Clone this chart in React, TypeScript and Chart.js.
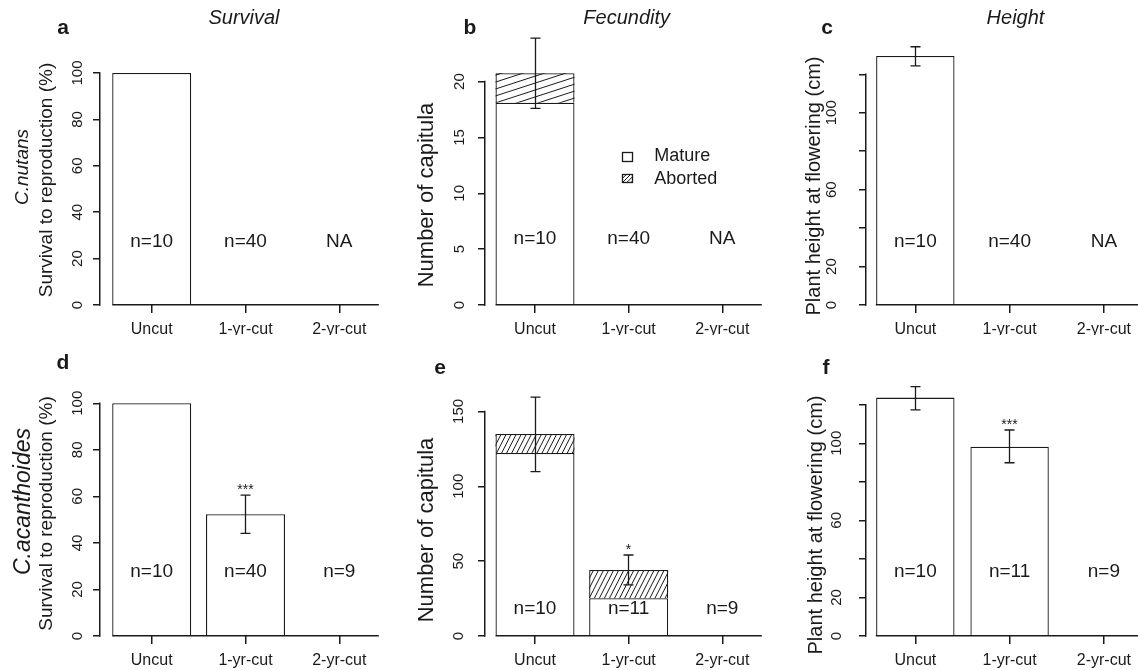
import React, { useEffect, useRef } from 'react';
import { Chart, registerables } from 'chart.js';

Chart.register(...registerables);

const FONT = '"Liberation Sans", Arial, Helvetica, sans-serif';
const INK = '#1a1a1a';
Chart.defaults.font.family = FONT;
Chart.defaults.color = INK;

// ---------- data ----------
const categories = ['Uncut', '1-yr-cut', '2-yr-cut'];

// Survival to reproduction (%)
const survivalNutans: (number | null)[] = [100, 0, null];
const survivalAcanth: (number | null)[] = [100, 52.3, 0];
const survivalAcanthErrLow: (number | null)[] = [null, 44.1, null];
const survivalAcanthErrHigh: (number | null)[] = [null, 60.5, null];

// Fecundity (number of capitula)
const matureNutans: (number | null)[] = [18.1, 0, null];
const abortedNutans: (number | null)[] = [2.65, 0, null];
const fecundNutansErrLow: (number | null)[] = [17.6, null, null];
const fecundNutansErrHigh: (number | null)[] = [23.9, null, null];
const matureAcanth: (number | null)[] = [122.2, 25.2, 0];
const abortedAcanth: (number | null)[] = [12.7, 18.9, 0];
const fecundAcanthErrLow: (number | null)[] = [109.8, 34.1, null];
const fecundAcanthErrHigh: (number | null)[] = [159.6, 54.1, null];

// Plant height at flowering (cm)
const heightNutans: (number | null)[] = [129.5, null, null];
const heightNutansErrLow: (number | null)[] = [124.4, null, null];
const heightNutansErrHigh: (number | null)[] = [134.3, null, null];
const heightAcanth: (number | null)[] = [123.7, 98.2, 0];
const heightAcanthErrLow: (number | null)[] = [117.3, 89.9, null];
const heightAcanthErrHigh: (number | null)[] = [129.4, 106.9, null];

// sample sizes & significance
const nNutans = ['n=10', 'n=40', 'NA'];
const nAcanthSurvival = ['n=10', 'n=40', 'n=9'];
const nAcanthOther = ['n=10', 'n=11', 'n=9'];
const sigSurvivalAcanth = ['', '***', ''];
const sigFecundAcanth = ['', '*', ''];
const sigHeightAcanth = ['', '***', ''];
const noSig = ['', '', ''];

// tick values
const ticksSurvival = [0, 20, 40, 60, 80, 100];
const ticksFecundNutans = [0, 5, 10, 15, 20];
const ticksFecundAcanth = [0, 50, 100, 150];
const ticksHeight = [0, 20, 40, 60, 80, 100, 120];
const labelsHeight = [0, 20, 60, 100];

// ---------- layout ----------
const AXIS_X = 100;
const BAR_W = 79;
const Y_TICK_LEN = 7;
const X_TICK_LEN = 8;

type Cfg = {
  id: string;
  left: number; top: number; width: number; height: number;
  y0: number; yTop: number; yMax: number;
  firstCenter: number; spacing: number;
  yTicks: number[]; yLabelled: number[]; yTickDist: number;
  kind: 'single' | 'stacked';
  values?: (number | null)[];
  mature?: (number | null)[];
  aborted?: (number | null)[];
  errLow: (number | null)[]; errHigh: (number | null)[];
  nLabels: string[]; nLabelY: number;
  sig: string[];
  yTitle: string; yTitleSize: number; yTitleX: number; yTitleY: number;
  letter: string; letterX: number; letterY: number;
  title?: string; titleX?: number; titleY?: number;
  species?: string; speciesX?: number; speciesY?: number; speciesSize?: number;
  hatchAngle?: number; hatchGap?: number;
  legend?: boolean;
};

const noErr = [null, null, null];

const panels: Cfg[] = [
  {
    id: 'a', left: 0, top: 0, width: 385, height: 335,
    y0: 305, yTop: 49.8, yMax: 110, firstCenter: 151.7, spacing: 93.8,
    yTicks: ticksSurvival, yLabelled: ticksSurvival, yTickDist: 22.3,
    kind: 'single', values: survivalNutans, errLow: noErr, errHigh: noErr,
    nLabels: nNutans, nLabelY: 242, sig: noSig,
    yTitle: 'Survival to reproduction (%)', yTitleSize: 19, yTitleX: 47, yTitleY: 180,
    letter: 'a', letterX: 63, letterY: 28,
    title: 'Survival', titleX: 244, titleY: 18,
    species: 'C.nutans', speciesX: 23, speciesY: 167, speciesSize: 19,
  },
  {
    id: 'b', left: 385, top: 0, width: 381, height: 335,
    y0: 305, yTop: 25.75, yMax: 25, firstCenter: 150, spacing: 93.65,
    yTicks: ticksFecundNutans, yLabelled: ticksFecundNutans, yTickDist: 25,
    kind: 'stacked', mature: matureNutans, aborted: abortedNutans,
    errLow: fecundNutansErrLow, errHigh: fecundNutansErrHigh,
    nLabels: nNutans, nLabelY: 238.3, sig: noSig,
    yTitle: 'Number of capitula', yTitleSize: 22, yTitleX: 41.7, yTitleY: 195,
    letter: 'b', letterX: 85, letterY: 28,
    title: 'Fecundity', titleX: 241.7, titleY: 18,
    hatchAngle: 18, hatchGap: 6.6, legend: true,
  },
  {
    id: 'c', left: 766, top: 0, width: 372, height: 335,
    y0: 305, yTop: 35.8, yMax: 140, firstCenter: 149.7, spacing: 95,
    yTicks: ticksHeight, yLabelled: labelsHeight, yTickDist: 34,
    kind: 'single', values: heightNutans, errLow: heightNutansErrLow, errHigh: heightNutansErrHigh,
    nLabels: nNutans, nLabelY: 242, sig: noSig,
    yTitle: 'Plant height at flowering (cm)', yTitleSize: 20, yTitleX: 48.7, yTitleY: 186,
    letter: 'c', letterX: 61, letterY: 28,
    title: 'Height', titleX: 249.5, titleY: 18,
  },
  {
    id: 'd', left: 0, top: 335, width: 385, height: 335,
    y0: 301, yTop: 45, yMax: 110, firstCenter: 151.7, spacing: 93.8,
    yTicks: ticksSurvival, yLabelled: ticksSurvival, yTickDist: 22,
    kind: 'single', values: survivalAcanth, errLow: survivalAcanthErrLow, errHigh: survivalAcanthErrHigh,
    nLabels: nAcanthSurvival, nLabelY: 236.7, sig: sigSurvivalAcanth,
    yTitle: 'Survival to reproduction (%)', yTitleSize: 19, yTitleX: 46.7, yTitleY: 178.5,
    letter: 'd', letterX: 63, letterY: 28,
    species: 'C.acanthoides', speciesX: 24, speciesY: 166.5, speciesSize: 23,
  },
  {
    id: 'e', left: 385, top: 335, width: 381, height: 335,
    y0: 301, yTop: 46.5, yMax: 170, firstCenter: 150, spacing: 93.65,
    yTicks: ticksFecundAcanth, yLabelled: ticksFecundAcanth, yTickDist: 26.3,
    kind: 'stacked', mature: matureAcanth, aborted: abortedAcanth,
    errLow: fecundAcanthErrLow, errHigh: fecundAcanthErrHigh,
    nLabels: nAcanthOther, nLabelY: 273.3, sig: sigFecundAcanth,
    yTitle: 'Number of capitula', yTitleSize: 22, yTitleX: 41.7, yTitleY: 195,
    letter: 'e', letterX: 55, letterY: 33,
    hatchAngle: 63, hatchGap: 4.5,
  },
  {
    id: 'f', left: 766, top: 335, width: 372, height: 335,
    y0: 301, yTop: 31.2, yMax: 140, firstCenter: 149.7, spacing: 95,
    yTicks: ticksHeight, yLabelled: labelsHeight, yTickDist: 29,
    kind: 'single', values: heightAcanth, errLow: heightAcanthErrLow, errHigh: heightAcanthErrHigh,
    nLabels: nAcanthOther, nLabelY: 236.7, sig: sigHeightAcanth,
    yTitle: 'Plant height at flowering (cm)', yTitleSize: 20, yTitleX: 50.3, yTitleY: 190,
    letter: 'f', letterX: 60, letterY: 33,
  },
];

// ---------- helpers ----------
function align(v: number, lw: number) {
  return Math.round(v - lw / 2) + lw / 2;
}

function hatchRect(ctx: CanvasRenderingContext2D, l: number, t: number, w: number, h: number,
  angleDeg: number, gap: number, lw: number) {
  if (w <= 0 || h <= 0.5) return;
  const a = (angleDeg * Math.PI) / 180;
  const nx = Math.sin(a), ny = Math.cos(a);
  const dx = Math.cos(a), dy = -Math.sin(a);
  const cs = [l * nx + t * ny, (l + w) * nx + t * ny, l * nx + (t + h) * ny, (l + w) * nx + (t + h) * ny];
  const cmin = Math.min(...cs), cmax = Math.max(...cs);
  const cx = l + w / 2, cy = t + h / 2, cc = cx * nx + cy * ny;
  const L = w + h + 20;
  ctx.save();
  ctx.beginPath();
  ctx.rect(l, t, w, h);
  ctx.clip();
  ctx.beginPath();
  for (let k = Math.ceil(cmin / gap); k <= Math.floor(cmax / gap); k++) {
    const c = k * gap;
    const px = cx + (c - cc) * nx, py = cy + (c - cc) * ny;
    ctx.moveTo(px - dx * L, py - dy * L);
    ctx.lineTo(px + dx * L, py + dy * L);
  }
  ctx.strokeStyle = INK;
  ctx.lineWidth = lw;
  ctx.stroke();
  ctx.restore();
}

function vText(ctx: CanvasRenderingContext2D, text: string, x: number, y: number, font: string) {
  ctx.save();
  ctx.translate(x, y);
  ctx.rotate(-Math.PI / 2);
  ctx.font = font;
  ctx.textAlign = 'center';
  ctx.textBaseline = 'middle';
  ctx.fillStyle = INK;
  ctx.fillText(text, 0, 0);
  ctx.restore();
}

function hText(ctx: CanvasRenderingContext2D, text: string, x: number, y: number, font: string,
  alignH: CanvasTextAlign = 'center', base: CanvasTextBaseline = 'middle') {
  ctx.save();
  ctx.font = font;
  ctx.textAlign = alignH;
  ctx.textBaseline = base;
  ctx.fillStyle = INK;
  ctx.fillText(text, x, y);
  ctx.restore();
}

function buildConfig(cfg: Cfg): any {
  const xMin = 1 - (cfg.firstCenter - AXIS_X) / cfg.spacing;
  const xMax = 1 + (cfg.width - cfg.firstCenter) / cfg.spacing;
  const barPct = BAR_W / cfg.spacing;
  const stacked = cfg.kind === 'stacked';
  const toPts = (arr: (number | null)[]) => arr.map((v, i) => ({ x: i + 1, y: v }));
  const common = {
    backgroundColor: '#ffffff', borderColor: INK, borderWidth: 1.3,
    barPercentage: barPct, categoryPercentage: 1, borderSkipped: 'start',
  };
  const datasets = stacked
    ? [
        { label: 'Mature', data: toPts(cfg.mature!), ...common },
        { label: 'Aborted', data: toPts(cfg.aborted!), ...common },
      ]
    : [{ label: cfg.yTitle, data: toPts(cfg.values!), ...common }];

  const tickSize = 15;
  const mctx = document.createElement('canvas').getContext('2d')!;
  mctx.font = `normal ${tickSize}px ${FONT}`;
  const widest = Math.max(...cfg.yLabelled.map((v) => mctx.measureText(String(v)).width));
  const yPad = cfg.yTickDist - Y_TICK_LEN - widest / 2;

  const decor = {
    id: 'decor' + cfg.id,
    afterDatasetsDraw(chart: any) {
      if (!stacked) return;
      const ctx = chart.ctx as CanvasRenderingContext2D;
      const meta = chart.getDatasetMeta(1);
      meta.data.forEach((el: any) => {
        const p = el.getProps(['x', 'y', 'base', 'width'], true);
        if (!isFinite(p.y) || !isFinite(p.base)) return;
        const l = p.x - p.width / 2;
        const t = Math.min(p.y, p.base);
        const h = Math.abs(p.base - p.y);
        hatchRect(ctx, l, t, p.width, h, cfg.hatchAngle!, cfg.hatchGap!, 1);
      });
    },
    afterDraw(chart: any) {
      const ctx = chart.ctx as CanvasRenderingContext2D;
      const xs = chart.scales.x, ys = chart.scales.y;
      const lw = 1.5;
      ctx.save();
      ctx.strokeStyle = INK;
      ctx.lineWidth = lw;
      // y axis line (from 0 to last tick)
      const ax = align(chart.chartArea.left, lw);
      ctx.beginPath();
      ctx.moveTo(ax, ys.getPixelForValue(0) + lw / 2);
      ctx.lineTo(ax, ys.getPixelForValue(cfg.yTicks[cfg.yTicks.length - 1]) - lw / 2);
      ctx.stroke();
      // baseline under the bars
      const by = align(ys.getPixelForValue(0), lw);
      ctx.beginPath();
      ctx.moveTo(xs.getPixelForValue(1) - BAR_W / 2, by);
      ctx.lineTo(xs.getPixelForValue(categories.length) + BAR_W / 2, by);
      ctx.stroke();
      // error bars
      ctx.lineWidth = 1.3;
      categories.forEach((_, i) => {
        const lo = cfg.errLow[i], hi = cfg.errHigh[i];
        if (lo == null || hi == null) return;
        const x = align(xs.getPixelForValue(i + 1), 1);
        const yl = ys.getPixelForValue(lo), yh = ys.getPixelForValue(hi);
        ctx.beginPath();
        ctx.moveTo(x, yl); ctx.lineTo(x, yh);
        ctx.moveTo(x - 5, yl); ctx.lineTo(x + 5, yl);
        ctx.moveTo(x - 5, yh); ctx.lineTo(x + 5, yh);
        ctx.stroke();
        if (cfg.sig[i]) hText(ctx, cfg.sig[i], x, yh - 1, `normal 14px ${FONT}`, 'center', 'alphabetic');
      });
      ctx.restore();
      // sample sizes
      categories.forEach((_, i) => {
        hText(ctx, cfg.nLabels[i], xs.getPixelForValue(i + 1), cfg.nLabelY, `normal 19px ${FONT}`);
      });
      // axis title, letters, titles, species
      vText(ctx, cfg.yTitle, cfg.yTitleX, cfg.yTitleY, `normal ${cfg.yTitleSize}px ${FONT}`);
      hText(ctx, cfg.letter, cfg.letterX, cfg.letterY, `bold 21px ${FONT}`);
      if (cfg.title) hText(ctx, cfg.title, cfg.titleX!, cfg.titleY!, `italic 20px ${FONT}`);
      if (cfg.species) vText(ctx, cfg.species, cfg.speciesX!, cfg.speciesY!, `italic ${cfg.speciesSize}px ${FONT}`);
      // legend
      if (cfg.legend) {
        ctx.save();
        ctx.strokeStyle = INK;
        ctx.lineWidth = 1.3;
        ctx.strokeRect(237.5, 152.5, 10, 9);
        hatchRect(ctx, 237.5, 174.5, 10, 8, 45, 3, 1);
        ctx.strokeRect(237.5, 174.5, 10, 8);
        ctx.restore();
        hText(ctx, 'Mature', 269.3, 156.5, `normal 18px ${FONT}`, 'left');
        hText(ctx, 'Aborted', 269.3, 179, `normal 18px ${FONT}`, 'left');
      }
    },
  };

  return {
    type: 'bar',
    data: { datasets },
    plugins: [decor],
    options: {
      responsive: false,
      animation: false,
      devicePixelRatio: 1,
      events: [],
      layout: { padding: { top: cfg.yTop, bottom: 0, left: 0, right: 0 } },
      plugins: { legend: { display: false }, tooltip: { enabled: false }, title: { display: false } },
      scales: {
        x: {
          type: 'linear', min: xMin, max: xMax, stacked, offset: false, bounds: 'data',
          afterBuildTicks: (s: any) => { s.ticks = categories.map((_, i) => ({ value: i + 1 })); },
          afterFit: (s: any) => { s.height = cfg.height - cfg.y0; },
          ticks: {
            autoSkip: false, maxRotation: 0, minRotation: 0, padding: 7,
            font: { size: 16 }, color: INK,
            callback: (_v: any, i: number) => categories[i],
          },
          grid: { offset: false, drawOnChartArea: false, drawTicks: true, tickLength: X_TICK_LEN, color: INK, tickColor: INK, lineWidth: 1.5 },
          border: { display: false },
        },
        y: {
          type: 'linear', min: 0, max: cfg.yMax, stacked,
          afterBuildTicks: (s: any) => { s.ticks = cfg.yTicks.map((v) => ({ value: v })); },
          afterFit: (s: any) => { s.width = AXIS_X; },
          ticks: {
            autoSkip: false, minRotation: 90, maxRotation: 90, crossAlign: 'center', padding: yPad,
            font: { size: tickSize }, color: INK,
            callback: (v: any) => (cfg.yLabelled.includes(Number(v)) ? String(v) : ''),
          },
          grid: { drawOnChartArea: false, drawTicks: true, tickLength: Y_TICK_LEN, color: INK, tickColor: INK, lineWidth: 1.5 },
          border: { display: false },
        },
      },
    },
  };
}

function PanelChart({ cfg }: { cfg: Cfg }) {
  const ref = useRef<HTMLCanvasElement>(null);
  useEffect(() => {
    const canvas = ref.current;
    if (!canvas) return;
    const chart = new Chart(canvas, buildConfig(cfg));
    return () => chart.destroy();
  }, [cfg]);
  return (
    <canvas
      ref={ref}
      width={cfg.width}
      height={cfg.height}
      style={{ position: 'absolute', left: cfg.left, top: cfg.top, width: cfg.width, height: cfg.height }}
    />
  );
}

export default function App() {
  return (
    <div style={{ position: 'absolute', left: 0, top: 0, width: 1138, height: 670, background: '#ffffff', overflow: 'hidden' }}>
      {panels.map((p) => (
        <PanelChart key={p.id} cfg={p} />
      ))}
    </div>
  );
}
